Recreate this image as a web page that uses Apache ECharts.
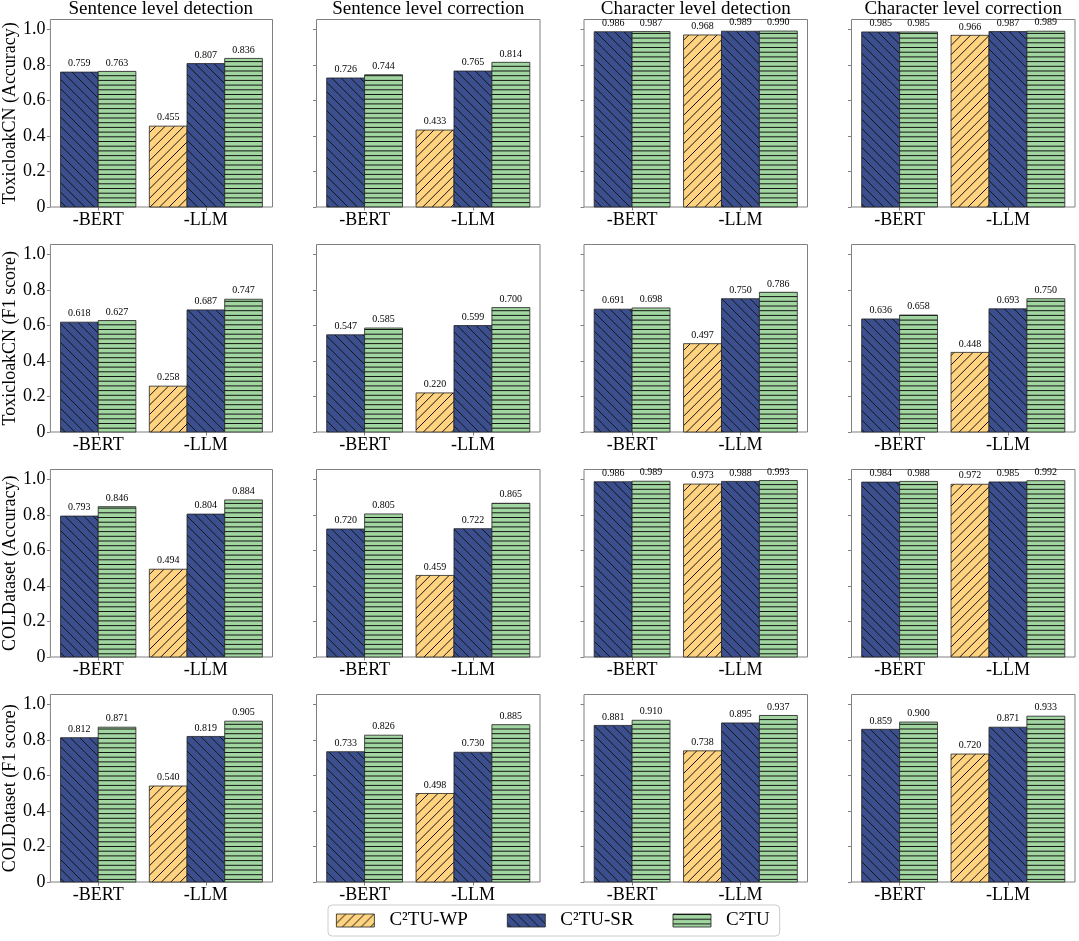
<!DOCTYPE html>
<html>
<head>
<meta charset="utf-8">
<script src="https://cdn.jsdelivr.net/npm/echarts@6/dist/echarts.min.js"></script>
<style>
html,body{margin:0;padding:0;background:#fff;}
#chart{width:1079px;height:941px;}
</style>
</head>
<body>
<div id="chart"></div>
<script>
// ---------------- data ----------------
const COLUMN_TITLES = ['Sentence level detection', 'Sentence level correction', 'Character level detection', 'Character level correction'];
const ROW_LABELS = ['ToxicloakCN (Accuracy)', 'ToxicloakCN (F1 score)', 'COLDataset (Accuracy)', 'COLDataset (F1 score)'];
const X_CATEGORIES = ['-BERT', '-LLM'];
const SERIES_NAMES = ['C²TU-WP', 'C²TU-SR', 'C²TU'];
const Y_TICKS = [0, 0.2, 0.4, 0.6, 0.8, 1.0];

// [row][column]; C²TU-WP has no -BERT bar
const WP_LLM = [
  [0.455, 0.433, 0.968, 0.966],
  [0.258, 0.220, 0.497, 0.448],
  [0.494, 0.459, 0.973, 0.972],
  [0.540, 0.498, 0.738, 0.720]
];
const SR_BERT = [
  [0.759, 0.726, 0.986, 0.985],
  [0.618, 0.547, 0.691, 0.636],
  [0.793, 0.720, 0.986, 0.984],
  [0.812, 0.733, 0.881, 0.859]
];
const SR_LLM = [
  [0.807, 0.765, 0.989, 0.987],
  [0.687, 0.599, 0.750, 0.693],
  [0.804, 0.722, 0.988, 0.985],
  [0.819, 0.730, 0.895, 0.871]
];
const TU_BERT = [
  [0.763, 0.744, 0.987, 0.985],
  [0.627, 0.585, 0.698, 0.658],
  [0.846, 0.805, 0.989, 0.988],
  [0.871, 0.826, 0.910, 0.900]
];
const TU_LLM = [
  [0.836, 0.814, 0.990, 0.989],
  [0.747, 0.700, 0.786, 0.750],
  [0.884, 0.865, 0.993, 0.992],
  [0.905, 0.885, 0.937, 0.933]
];

// ---------------- styling / layout ----------------
const FONT = '"Liberation Serif", "Times New Roman", serif';
const COLORS = ['#FFD37F', '#3B4F8E', '#A1D6A1'];
const HATCH = ['/', '\\', '-'];
const BAR_W = 0.35;
const X_MIN = -0.444, X_MAX = 1.619, Y_MAX = 1.055;
const COL_LEFT = [49, 316.5, 584, 851.5];
const ROW_TOP = [19.5, 244.5, 469.5, 694.5];
const PLOT_W = 223.5, PLOT_H = 187.5;
const SPINE = '#808080';

function makePattern(bg, kind) {
  const N = 47, p = 9.4, ph = 4.7;
  const c = document.createElement('canvas');
  c.width = N; c.height = N;
  const ctx = c.getContext('2d');
  ctx.fillStyle = bg; ctx.fillRect(0, 0, N, N);
  ctx.strokeStyle = '#141414'; ctx.lineWidth = 1;
  ctx.beginPath();
  if (kind === '-') {
    for (let k = 0; k < 10; k++) { const y = k * ph + 0.5; ctx.moveTo(0, y); ctx.lineTo(N, y); }
  } else if (kind === '/') {
    for (let cc = -p; cc <= 2 * N + p; cc += p) { ctx.moveTo(cc, 0); ctx.lineTo(cc - N, N); }
  } else {
    for (let cc = -N - p; cc <= N + p; cc += p) { ctx.moveTo(cc, 0); ctx.lineTo(cc + N, N); }
  }
  ctx.stroke();
  return { image: c, repeat: 'repeat' };
}
const PATTERNS = COLORS.map((col, i) => makePattern(col, HATCH[i]));

function barOffset(s, cat) {
  if (cat === 0) return s === 1 ? -BAR_W / 2 : BAR_W / 2; // two bars
  return (s - 1) * BAR_W; // three bars
}

function makeRender(s) {
  return function (params, api) {
    const cat = api.value(0), val = api.value(1);
    const x0 = cat + barOffset(s, cat) - BAR_W / 2;
    const p1 = api.coord([x0, val]);
    const p2 = api.coord([x0 + BAR_W, 0]);
    return {
      type: 'rect',
      shape: { x: p1[0], y: p1[1], width: p2[0] - p1[0], height: p2[1] - p1[1] },
      style: { fill: PATTERNS[s], stroke: '#222', lineWidth: 0.8 },
      textContent: { style: { text: val.toFixed(3), font: '10px ' + FONT, fill: '#000' } },
      textConfig: { position: 'top', distance: 3 }
    };
  };
}

const grids = [], xAxes = [], yAxes = [], series = [], titles = [];
for (let r = 0; r < 4; r++) {
  for (let c = 0; c < 4; c++) {
    const g = r * 4 + c;
    grids.push({ left: COL_LEFT[c], top: ROW_TOP[r], width: PLOT_W, height: PLOT_H, show: true, borderColor: SPINE, borderWidth: 1, backgroundColor: 'transparent', containLabel: false });
    xAxes.push({
      type: 'value', gridIndex: g, min: X_MIN, max: X_MAX, position: 'bottom',
      axisLine: { show: false, onZero: false }, splitLine: { show: false },
      axisTick: { show: true, inside: false, length: 3.5, customValues: [0, 1], lineStyle: { color: SPINE, width: 1 } },
      axisLabel: { show: true, customValues: [0, 1], margin: 4, formatter: v => X_CATEGORIES[Math.round(v)], fontFamily: FONT, fontSize: 18, color: '#000' }
    });
    yAxes.push({
      type: 'value', gridIndex: g, min: 0, max: Y_MAX, position: 'left',
      axisLine: { show: false, onZero: false }, splitLine: { show: false },
      axisTick: { show: true, inside: false, length: 3.5, customValues: Y_TICKS, lineStyle: { color: SPINE, width: 1 } },
      axisLabel: { show: c === 0, customValues: Y_TICKS, margin: 5, formatter: v => v === 0 ? '0' : v.toFixed(1), fontFamily: FONT, fontSize: 18, color: '#000' },
      name: c === 0 ? ROW_LABELS[r] : '', nameLocation: 'middle', nameGap: 30,
      nameTextStyle: { fontFamily: FONT, fontSize: 18, color: '#000' }
    });
    const seriesData = [
      [[1, WP_LLM[r][c]]],
      [[0, SR_BERT[r][c]], [1, SR_LLM[r][c]]],
      [[0, TU_BERT[r][c]], [1, TU_LLM[r][c]]]
    ];
    for (let s = 0; s < 3; s++) {
      series.push({
        type: 'custom', name: SERIES_NAMES[s], xAxisIndex: g, yAxisIndex: g,
        itemStyle: { color: PATTERNS[s] },
        renderItem: makeRender(s), data: seriesData[s], silent: true, clip: false
      });
    }
  }
}
for (let c = 0; c < 4; c++) {
  titles.push({ text: COLUMN_TITLES[c], left: COL_LEFT[c] + PLOT_W / 2, top: 0, textAlign: 'center', padding: 0,
    textStyle: { fontFamily: FONT, fontSize: 19, fontWeight: 'normal', color: '#000' } });
}

const chart = echarts.init(document.getElementById('chart'), null, { renderer: 'canvas' });
chart.setOption({
  animation: false,
  backgroundColor: '#fff',
  textStyle: { fontFamily: FONT },
  title: titles,
  legend: {
    left: 328, top: 905, orient: 'horizontal', itemWidth: 38, itemHeight: 13, itemGap: 39,
    padding: [6, 10, 6, 8], borderColor: '#cccccc', borderWidth: 1, borderRadius: 4, backgroundColor: '#fff',
    selectedMode: false,
    textStyle: { fontFamily: FONT, fontSize: 19, color: '#000', padding: [0, 0, 0, 10] },
    data: SERIES_NAMES.map((n, i) => ({ name: n, icon: 'rect', itemStyle: { color: PATTERNS[i], borderColor: '#222', borderWidth: 0.8 } }))
  },
  grid: grids, xAxis: xAxes, yAxis: yAxes, series: series
});
</script>
</body>
</html>
